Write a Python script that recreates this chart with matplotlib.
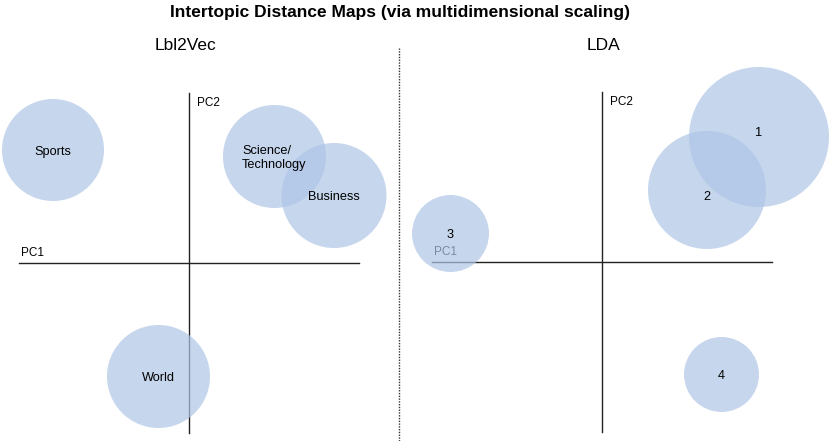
import matplotlib
matplotlib.use("Agg")
import matplotlib.pyplot as plt
from matplotlib.patches import Circle
from matplotlib.lines import Line2D

plt.rcParams['font.family'] = ['Liberation Sans', 'DejaVu Sans']

# topic positions in the 2D MDS space (PC1, PC2) and bubble radius
lbl2vec_topics = ['Sports', 'Science/\nTechnology', 'Business', 'World']
lbl2vec_x = [-1.36, 0.855, 1.45, -0.305]
lbl2vec_y = [1.13, 1.065, 0.675, -1.135]
lbl2vec_r = [0.51, 0.515, 0.525, 0.515]

lda_topics = ['1', '2', '3', '4']
lda_x = [1.57, 1.05, -1.515, 1.195]
lda_y = [1.25, 0.72, 0.285, -1.125]
lda_r = [0.70, 0.59, 0.385, 0.375]
lda_label_dy = [0.05, -0.05, 0.0, 0.0]

axis_half = 1.7
bubble_color = '#afc5e6'


def draw_map(ax, names, xs, ys, rs, label_dy=None):
    ax.plot([-axis_half, axis_half], [0, 0], color='#222222', lw=1.0, zorder=1)
    ax.plot([0, 0], [-axis_half, axis_half], color='#222222', lw=1.0, zorder=1)
    ax.text(-axis_half + 0.02, 0.1, 'PC1', fontsize=8.5, va='center', ha='left', zorder=2)
    ax.text(0.08, 1.6, 'PC2', fontsize=8.5, va='center', ha='left', zorder=2)
    if label_dy is None:
        label_dy = [0] * len(names)
    for name, x, y, r, dy in zip(names, xs, ys, rs, label_dy):
        ax.add_patch(Circle((x, y), r, facecolor=bubble_color, edgecolor='none',
                            alpha=0.7, zorder=3))
        # small nudge down so the glyphs sit visually centred
        ax.text(x, y + dy - 0.015, name, fontsize=9.2, ha='center', va='center',
                multialignment='left', zorder=4)
    ax.set_aspect('equal')
    ax.axis('off')


fig = plt.figure(figsize=(8.31, 4.41), dpi=100)

ax_left = fig.add_axes([0, 0, 399 / 831, 1])
ax_left.set_xlim(-1.89, 2.10)
ax_left.set_ylim(-1.78, 2.63)
draw_map(ax_left, lbl2vec_topics, lbl2vec_x, lbl2vec_y, lbl2vec_r)

ax_right = fig.add_axes([399 / 831, 0, 432 / 831, 1])
ax_right.set_xlim(-2.03, 2.29)
ax_right.set_ylim(-1.79, 2.62)
draw_map(ax_right, lda_topics, lda_x, lda_y, lda_r, lda_label_dy)

fig.text(400 / 831, 1 - 12 / 441, 'Intertopic Distance Maps (via multidimensional scaling)',
         fontsize=12.5, fontweight='bold', ha='center', va='center')
fig.text(185 / 831, 1 - 45 / 441, 'Lbl2Vec', fontsize=12.5, ha='center', va='center')
fig.text(604 / 831, 1 - 45 / 441, 'LDA', fontsize=12.5, ha='center', va='center')

fig.add_artist(Line2D([399 / 831, 399 / 831], [0, 1 - 48 / 441], transform=fig.transFigure,
                      linestyle=(0, (1, 1)), color='#333333', lw=1.0))

fig.savefig('out.png', dpi=100)
